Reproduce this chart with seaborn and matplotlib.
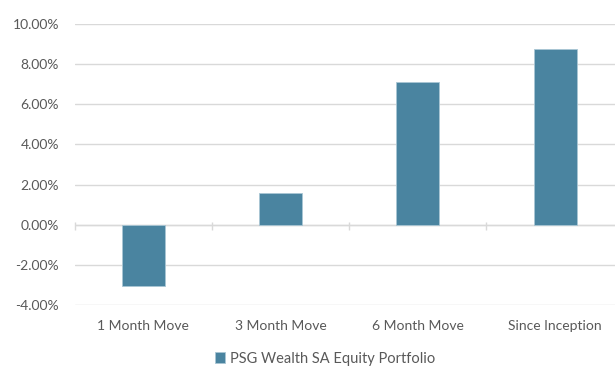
import matplotlib
matplotlib.use("Agg")
import matplotlib.pyplot as plt
from matplotlib.ticker import FuncFormatter, MultipleLocator
import pandas as pd
import seaborn as sns

categories = ["1 Month Move", "3 Month Move", "6 Month Move", "Since Inception"]
returns_pct = [-3.05, 1.60, 7.12, 8.73]
series_name = "PSG Wealth SA Equity Portfolio"

bar_color = "#4A84A0"
text_color = "#595959"
grid_color = "#D9D9D9"

sns.set_theme(style="white")
plt.rcParams["font.family"] = ["Lato", "DejaVu Sans"]

df = pd.DataFrame({"period": categories, "value": returns_pct})

fig = plt.figure(figsize=(6.15, 3.68), dpi=100)
ax = fig.add_axes([74.5 / 615, 1 - 305 / 368, (623.7 - 74.5) / 615, (305 - 24) / 368])

sns.barplot(data=df, x="period", y="value", color=bar_color, saturation=1,
            width=0.313, edgecolor="#A9C6D4", linewidth=0.6,
            label=series_name, ax=ax, zorder=3)

ax.set_xlim(-0.5, len(categories) - 0.5)
ax.set_ylim(-4, 10)
ax.yaxis.set_major_locator(MultipleLocator(2))
ax.yaxis.set_major_formatter(FuncFormatter(lambda v, _: f"{v:.2f}%"))
ax.grid(axis="y", color=grid_color, linewidth=1.0, zorder=0)
ax.set_axisbelow(True)
for s in ax.spines.values():
    s.set_visible(False)

# zero line with category separator ticks
ax.axhline(0, color=grid_color, linewidth=1.0, zorder=1)
bounds = [i - 0.5 for i in range(len(categories) + 1)]
ax.vlines(bounds, -0.25, 0.15, color=grid_color, linewidth=1.0, zorder=1, clip_on=False)

ax.set_xlabel("")
ax.set_ylabel("")
ax.tick_params(axis="both", length=0, labelsize=10, colors=text_color)
ax.tick_params(axis="y", pad=11)
ax.tick_params(axis="x", pad=11)

leg = ax.legend(loc="center", bbox_to_anchor=(325 / 615, 1 - 358.5 / 368),
                bbox_transform=fig.transFigure, frameon=False,
                fontsize=10.5, handlelength=0.7, handleheight=0.7,
                handletextpad=0.35, labelcolor=text_color,
                borderpad=0.1)

fig.savefig("out.png", dpi=100)
